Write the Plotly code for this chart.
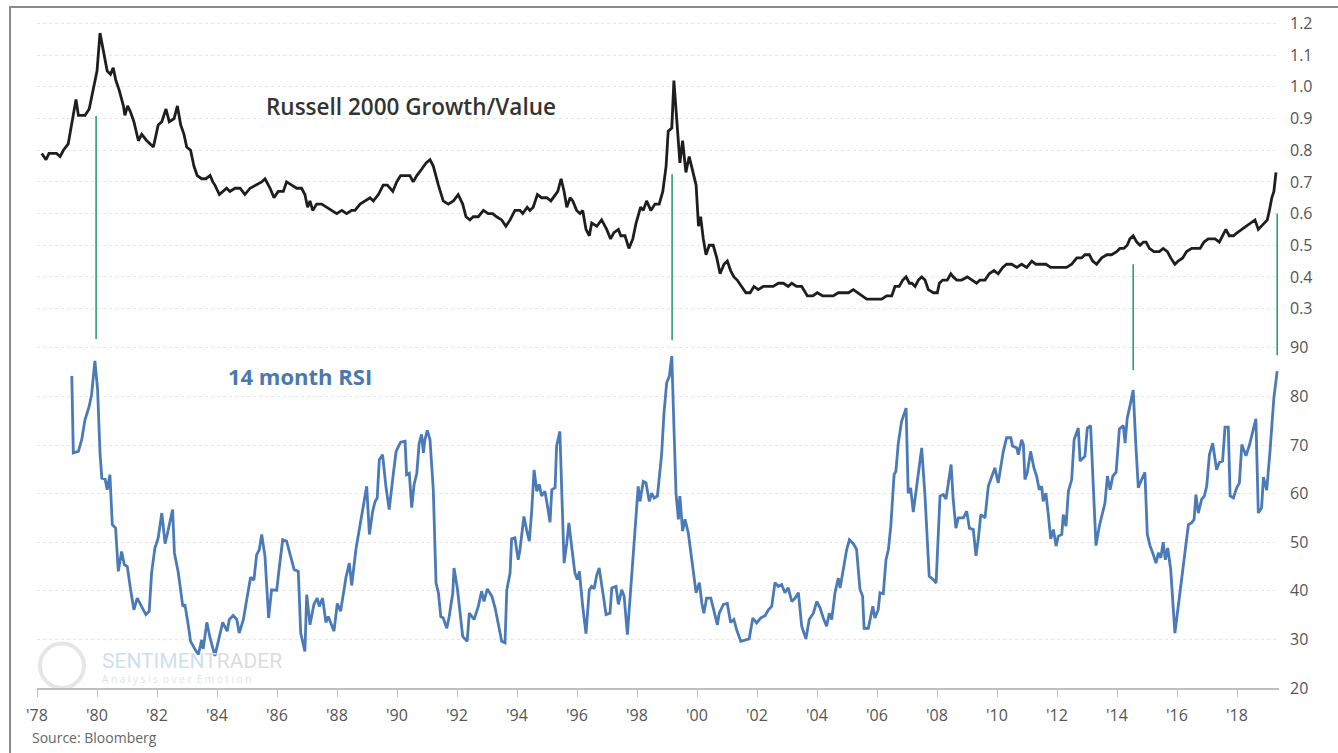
import plotly.graph_objects as go

# Russell 2000 Growth/Value ratio (decimal year, value)
ratio_year = [
    1978.16, 1978.3, 1978.4, 1978.65, 1978.77, 1978.88, 1979.04, 1979.2, 1979.3, 1979.38,
    1979.6, 1979.74, 1979.88, 1980.0, 1980.1, 1980.23, 1980.34, 1980.45, 1980.54, 1980.63,
    1980.74, 1980.88, 1980.93, 1981.02, 1981.12, 1981.23, 1981.38, 1981.49, 1981.66, 1981.88,
    1982.04, 1982.16, 1982.3, 1982.41, 1982.57, 1982.68, 1982.79, 1982.9, 1982.99, 1983.12,
    1983.23, 1983.34, 1983.49, 1983.63, 1983.77, 1983.86, 1983.93, 1984.08, 1984.2, 1984.32,
    1984.43, 1984.6, 1984.77, 1984.93, 1985.1, 1985.32, 1985.49, 1985.6, 1985.77, 1985.9,
    1986.04, 1986.21, 1986.32, 1986.49, 1986.66, 1986.82, 1986.93, 1987.02, 1987.1, 1987.19,
    1987.32, 1987.49, 1987.66, 1987.82, 1987.99, 1988.16, 1988.32, 1988.49, 1988.6, 1988.77,
    1988.93, 1989.1, 1989.21, 1989.38, 1989.54, 1989.68, 1989.86, 1989.99, 1990.12, 1990.3,
    1990.43, 1990.54, 1990.66, 1990.82, 1990.97, 1991.1, 1991.21, 1991.38, 1991.54, 1991.71,
    1991.88, 1992.04, 1992.19, 1992.3, 1992.43, 1992.54, 1992.71, 1992.88, 1993.04, 1993.19,
    1993.32, 1993.49, 1993.63, 1993.77, 1993.93, 1994.1, 1994.19, 1994.34, 1994.43, 1994.54,
    1994.68, 1994.82, 1994.99, 1995.13, 1995.27, 1995.36, 1995.47, 1995.57, 1995.66, 1995.77,
    1995.86, 1995.99, 1996.1, 1996.19, 1996.3, 1996.41, 1996.49, 1996.66, 1996.82, 1996.99,
    1997.12, 1997.23, 1997.38, 1997.46, 1997.6, 1997.73, 1997.86, 1997.97, 1998.12, 1998.21,
    1998.32, 1998.46, 1998.6, 1998.74, 1998.86, 1998.97, 1999.04, 1999.16, 1999.23, 1999.32,
    1999.43, 1999.52, 1999.63, 1999.74, 1999.86, 1999.97, 2000.05, 2000.12, 2000.21, 2000.3,
    2000.41, 2000.54, 2000.66, 2000.77, 2000.9, 2001.01, 2001.12, 2001.23, 2001.34, 2001.49,
    2001.63, 2001.77, 2001.9, 2002.04, 2002.21, 2002.38, 2002.54, 2002.71, 2002.88, 2003.04,
    2003.16, 2003.32, 2003.49, 2003.68, 2003.86, 2004.01, 2004.19, 2004.38, 2004.54, 2004.71,
    2004.88, 2005.05, 2005.21, 2005.35, 2005.49, 2005.66, 2005.82, 2005.99, 2006.16, 2006.32,
    2006.49, 2006.6, 2006.74, 2006.86, 2006.97, 2007.08, 2007.16, 2007.27, 2007.38, 2007.49,
    2007.6, 2007.71, 2007.88, 2008.01, 2008.08, 2008.19, 2008.34, 2008.46, 2008.54, 2008.66,
    2008.82, 2009.01, 2009.16, 2009.32, 2009.43, 2009.6, 2009.74, 2009.9, 2010.04, 2010.19,
    2010.32, 2010.49, 2010.66, 2010.82, 2010.99, 2011.16, 2011.3, 2011.46, 2011.63, 2011.79,
    2011.97, 2012.16, 2012.32, 2012.49, 2012.66, 2012.82, 2012.93, 2013.08, 2013.19, 2013.32,
    2013.49, 2013.66, 2013.82, 2013.99, 2014.1, 2014.23, 2014.34, 2014.43, 2014.54, 2014.66,
    2014.77, 2014.88, 2014.97, 2015.08, 2015.23, 2015.41, 2015.54, 2015.68, 2015.79, 2015.93,
    2016.04, 2016.19, 2016.32, 2016.49, 2016.63, 2016.77, 2016.9, 2017.04, 2017.12, 2017.27,
    2017.41, 2017.52, 2017.63, 2017.74, 2017.88, 2018.01, 2018.16, 2018.32, 2018.46, 2018.6,
    2018.71, 2018.82, 2018.93, 2019.01, 2019.08, 2019.16, 2019.23, 2019.3,
]
ratio_value = [
    0.79, 0.77, 0.79, 0.79, 0.78, 0.80, 0.82, 0.91, 0.96, 0.91,
    0.91, 0.93, 0.99, 1.05, 1.17, 1.10, 1.05, 1.04, 1.06, 1.02,
    0.99, 0.94, 0.91, 0.94, 0.92, 0.89, 0.83, 0.85, 0.83, 0.81,
    0.88, 0.89, 0.93, 0.89, 0.90, 0.94, 0.88, 0.85, 0.81, 0.80,
    0.75, 0.72, 0.71, 0.71, 0.72, 0.70, 0.69, 0.66, 0.67, 0.68,
    0.67, 0.68, 0.68, 0.66, 0.68, 0.69, 0.70, 0.71, 0.68, 0.65,
    0.67, 0.67, 0.70, 0.69, 0.68, 0.68, 0.66, 0.62, 0.64, 0.61,
    0.63, 0.63, 0.62, 0.61, 0.60, 0.61, 0.60, 0.61, 0.61, 0.63,
    0.64, 0.65, 0.64, 0.66, 0.69, 0.69, 0.67, 0.70, 0.72, 0.72,
    0.72, 0.70, 0.72, 0.74, 0.76, 0.77, 0.75, 0.69, 0.64, 0.63,
    0.64, 0.66, 0.63, 0.59, 0.58, 0.59, 0.59, 0.61, 0.60, 0.60,
    0.59, 0.58, 0.56, 0.58, 0.61, 0.61, 0.60, 0.62, 0.61, 0.62,
    0.66, 0.65, 0.65, 0.64, 0.66, 0.67, 0.71, 0.67, 0.62, 0.65,
    0.64, 0.61, 0.60, 0.61, 0.55, 0.53, 0.57, 0.56, 0.58, 0.55,
    0.52, 0.54, 0.55, 0.53, 0.53, 0.49, 0.52, 0.57, 0.62, 0.61,
    0.64, 0.61, 0.63, 0.63, 0.67, 0.75, 0.86, 0.87, 1.02, 0.90,
    0.76, 0.83, 0.73, 0.78, 0.73, 0.69, 0.56, 0.59, 0.52, 0.47,
    0.50, 0.50, 0.46, 0.41, 0.44, 0.45, 0.42, 0.40, 0.39, 0.37,
    0.35, 0.35, 0.37, 0.36, 0.37, 0.37, 0.37, 0.38, 0.38, 0.37,
    0.38, 0.37, 0.37, 0.34, 0.34, 0.35, 0.34, 0.34, 0.34, 0.35,
    0.35, 0.35, 0.36, 0.35, 0.34, 0.33, 0.33, 0.33, 0.33, 0.34,
    0.34, 0.37, 0.37, 0.39, 0.40, 0.38, 0.38, 0.37, 0.39, 0.40,
    0.39, 0.36, 0.35, 0.35, 0.38, 0.39, 0.39, 0.41, 0.40, 0.39,
    0.39, 0.40, 0.39, 0.38, 0.39, 0.39, 0.41, 0.42, 0.41, 0.43,
    0.44, 0.44, 0.43, 0.44, 0.43, 0.45, 0.44, 0.44, 0.44, 0.43,
    0.43, 0.43, 0.43, 0.44, 0.46, 0.46, 0.47, 0.47, 0.45, 0.44,
    0.46, 0.47, 0.47, 0.48, 0.49, 0.49, 0.50, 0.52, 0.53, 0.51,
    0.50, 0.51, 0.51, 0.49, 0.48, 0.48, 0.49, 0.48, 0.46, 0.44,
    0.45, 0.46, 0.48, 0.49, 0.49, 0.49, 0.51, 0.52, 0.52, 0.52,
    0.51, 0.53, 0.55, 0.53, 0.53, 0.54, 0.55, 0.56, 0.57, 0.58,
    0.55, 0.56, 0.57, 0.58, 0.61, 0.65, 0.67, 0.73,
]

# 14 month RSI of the ratio (decimal year, value)
rsi_year = [
    1979.16, 1979.21, 1979.38, 1979.49, 1979.6, 1979.74, 1979.82, 1979.93, 1980.02, 1980.1,
    1980.16, 1980.27, 1980.34, 1980.43, 1980.51, 1980.62, 1980.71, 1980.82, 1980.91, 1981.01,
    1981.12, 1981.23, 1981.34, 1981.49, 1981.63, 1981.74, 1981.82, 1981.93, 1982.04, 1982.16,
    1982.27, 1982.34, 1982.52, 1982.58, 1982.71, 1982.86, 1982.93, 1983.04, 1983.12, 1983.27,
    1983.38, 1983.49, 1983.54, 1983.66, 1983.77, 1983.93, 1984.08, 1984.19, 1984.34, 1984.41,
    1984.54, 1984.66, 1984.74, 1984.88, 1985.01, 1985.12, 1985.23, 1985.32, 1985.41, 1985.49,
    1985.6, 1985.72, 1985.82, 1985.99, 1986.08, 1986.19, 1986.32, 1986.43, 1986.57, 1986.71,
    1986.79, 1986.93, 1986.99, 1987.1, 1987.23, 1987.34, 1987.41, 1987.52, 1987.63, 1987.71,
    1987.8, 1987.9, 1988.01, 1988.12, 1988.3, 1988.41, 1988.49, 1988.63, 1988.79, 1988.93,
    1988.99, 1989.08, 1989.19, 1989.27, 1989.34, 1989.41, 1989.52, 1989.63, 1989.74, 1989.86,
    1989.97, 1990.12, 1990.27, 1990.32, 1990.41, 1990.49, 1990.57, 1990.66, 1990.74, 1990.82,
    1990.88, 1990.93, 1991.01, 1991.1, 1991.21, 1991.3, 1991.38, 1991.46, 1991.54, 1991.66,
    1991.74, 1991.86, 1991.9, 1992.01, 1992.1, 1992.19, 1992.34, 1992.41, 1992.57, 1992.71,
    1992.82, 1992.9, 1993.01, 1993.16, 1993.27, 1993.38, 1993.49, 1993.6, 1993.66, 1993.77,
    1993.82, 1993.93, 1994.04, 1994.1, 1994.23, 1994.32, 1994.41, 1994.49, 1994.57, 1994.66,
    1994.74, 1994.82, 1994.93, 1995.01, 1995.1, 1995.16, 1995.27, 1995.32, 1995.43, 1995.49,
    1995.57, 1995.66, 1995.73, 1995.82, 1995.93, 1996.01, 1996.08, 1996.19, 1996.3, 1996.41,
    1996.49, 1996.57, 1996.66, 1996.74, 1996.86, 1996.97, 1997.1, 1997.16, 1997.3, 1997.38,
    1997.49, 1997.57, 1997.68, 1997.77, 1997.88, 1997.97, 1998.04, 1998.1, 1998.21, 1998.3,
    1998.41, 1998.49, 1998.57, 1998.68, 1998.77, 1998.82, 1998.9, 1998.99, 1999.08, 1999.16,
    1999.21, 1999.3, 1999.38, 1999.43, 1999.52, 1999.6, 1999.71, 1999.86, 1999.97, 2000.08,
    2000.16, 2000.23, 2000.32, 2000.46, 2000.57, 2000.68, 2000.74, 2000.88, 2001.01, 2001.12,
    2001.23, 2001.32, 2001.46, 2001.6, 2001.74, 2001.86, 2001.99, 2002.12, 2002.27, 2002.38,
    2002.49, 2002.6, 2002.71, 2002.82, 2002.93, 2003.04, 2003.16, 2003.27, 2003.38, 2003.49,
    2003.63, 2003.74, 2003.88, 2003.99, 2004.1, 2004.21, 2004.32, 2004.41, 2004.49, 2004.6,
    2004.71, 2004.77, 2004.88, 2004.99, 2005.08, 2005.21, 2005.32, 2005.43, 2005.52, 2005.57,
    2005.71, 2005.86, 2005.93, 2006.04, 2006.1, 2006.21, 2006.3, 2006.38, 2006.46, 2006.57,
    2006.63, 2006.71, 2006.82, 2006.97, 2007.04, 2007.12, 2007.21, 2007.32, 2007.49, 2007.6,
    2007.74, 2007.88, 2007.97, 2008.1, 2008.21, 2008.3, 2008.47, 2008.54, 2008.63, 2008.71,
    2008.88, 2008.99, 2009.08, 2009.21, 2009.3, 2009.38, 2009.46, 2009.6, 2009.71, 2009.79,
    2009.93, 2010.04, 2010.12, 2010.21, 2010.32, 2010.46, 2010.52, 2010.66, 2010.71, 2010.82,
    2010.88, 2010.93, 2011.01, 2011.12, 2011.23, 2011.32, 2011.41, 2011.49, 2011.54, 2011.63,
    2011.71, 2011.79, 2011.88, 2011.97, 2012.04, 2012.16, 2012.21, 2012.3, 2012.38, 2012.49,
    2012.57, 2012.71, 2012.77, 2012.93, 2013.01, 2013.12, 2013.21, 2013.3, 2013.41, 2013.52,
    2013.6, 2013.68, 2013.77, 2013.86, 2013.97, 2014.08, 2014.21, 2014.27, 2014.34, 2014.43,
    2014.54, 2014.63, 2014.71, 2014.82, 2014.93, 2015.01, 2015.1, 2015.19, 2015.3, 2015.38,
    2015.46, 2015.54, 2015.61, 2015.69, 2015.79, 2015.93, 2016.04, 2016.21, 2016.38, 2016.49,
    2016.57, 2016.63, 2016.71, 2016.82, 2016.91, 2016.99, 2017.08, 2017.19, 2017.32, 2017.41,
    2017.52, 2017.6, 2017.71, 2017.77, 2017.88, 2017.99, 2018.08, 2018.16, 2018.3, 2018.41,
    2018.49, 2018.63, 2018.71, 2018.82, 2018.88, 2018.99, 2019.1, 2019.23, 2019.34,
]
rsi_value = [
    84.2, 68.4, 68.7, 71.1, 75.2, 78.0, 80.4, 87.3, 81.4, 68.4,
    63.2, 63.0, 60.8, 63.9, 53.6, 52.9, 44.0, 48.1, 45.4, 45.0,
    40.2, 36.1, 38.5, 36.8, 35.1, 35.8, 43.7, 48.8, 50.9, 56.0,
    49.7, 51.6, 56.7, 47.8, 43.7, 36.8, 37.2, 33.0, 29.6, 27.9,
    26.9, 29.9, 28.0, 33.5, 30.3, 26.6, 30.6, 33.5, 31.7, 34.1,
    34.9, 34.1, 31.3, 34.1, 38.9, 42.8, 42.2, 47.4, 48.5, 51.6,
    47.1, 34.4, 40.2, 40.1, 45.0, 50.5, 50.2, 47.8, 44.4, 44.0,
    31.3, 27.5, 39.2, 33.0, 37.2, 38.5, 36.8, 38.5, 33.5, 34.7,
    33.4, 31.7, 37.4, 35.8, 42.8, 45.7, 41.1, 48.5, 54.3, 59.1,
    61.5, 51.6, 56.4, 58.4, 59.1, 67.0, 68.0, 61.5, 56.7, 63.2,
    68.7, 70.6, 70.8, 63.9, 64.2, 57.1, 61.9, 64.2, 70.4, 72.2,
    68.4, 71.1, 73.0, 71.1, 60.8, 41.6, 39.6, 34.7, 34.4, 32.3,
    34.7, 39.6, 44.7, 40.6, 35.4, 30.6, 29.6, 35.4, 34.1, 36.8,
    39.9, 37.8, 40.4, 38.9, 36.5, 33.4, 29.6, 29.3, 40.2, 43.7,
    50.7, 50.9, 46.4, 48.5, 55.3, 52.6, 50.2, 56.4, 64.9, 60.5,
    61.9, 59.5, 60.5, 57.7, 54.1, 60.8, 61.2, 69.8, 72.8, 60.8,
    45.7, 49.8, 54.0, 49.2, 43.7, 42.3, 44.0, 36.8, 31.2, 40.2,
    40.9, 40.4, 43.3, 44.7, 39.6, 35.1, 35.4, 40.6, 40.9, 37.2,
    40.2, 38.9, 31.0, 38.2, 47.8, 55.3, 61.5, 58.4, 62.5, 62.2,
    58.4, 60.1, 59.1, 59.5, 64.9, 68.0, 76.6, 82.8, 84.2, 88.3,
    78.0, 60.1, 54.7, 59.5, 52.3, 54.7, 51.9, 45.0, 39.6, 41.7,
    37.5, 35.4, 38.5, 38.5, 35.8, 33.0, 35.4, 37.2, 37.4, 33.5,
    34.1, 32.0, 29.6, 29.9, 30.1, 34.4, 33.4, 34.4, 34.9, 36.1,
    36.8, 41.7, 40.9, 41.3, 39.6, 40.6, 37.8, 38.5, 39.6, 32.7,
    30.1, 34.1, 35.4, 37.8, 36.5, 34.4, 32.7, 35.4, 34.1, 39.6,
    42.6, 40.6, 45.0, 48.5, 50.5, 49.7, 48.5, 40.4, 38.9, 32.3,
    32.3, 36.8, 34.4, 36.1, 39.6, 39.4, 46.4, 48.5, 53.3, 63.9,
    64.6, 70.4, 74.9, 77.6, 60.1, 61.2, 56.2, 61.5, 69.4, 59.5,
    43.0, 42.3, 41.6, 59.5, 59.8, 58.9, 66.0, 58.8, 52.9, 55.0,
    55.0, 56.4, 52.9, 52.6, 47.2, 50.9, 55.7, 55.0, 61.5, 62.9,
    65.3, 62.2, 64.9, 68.7, 71.5, 71.5, 69.8, 69.4, 68.0, 71.1,
    70.1, 62.9, 64.3, 68.7, 65.3, 63.6, 60.8, 61.5, 58.4, 60.1,
    55.7, 50.7, 52.6, 49.2, 51.2, 51.6, 55.7, 53.3, 60.5, 62.9,
    71.1, 73.5, 66.7, 67.7, 73.5, 74.0, 61.5, 49.3, 53.3, 56.4,
    58.1, 63.6, 60.8, 63.6, 64.4, 73.3, 74.0, 70.4, 75.5, 78.0,
    81.3, 69.8, 61.2, 62.9, 64.4, 51.6, 49.3, 47.8, 45.7, 47.8,
    46.8, 50.0, 46.4, 48.8, 44.4, 31.3, 36.8, 45.0, 53.6, 54.0,
    54.7, 59.8, 56.0, 58.8, 59.5, 61.5, 68.0, 70.4, 64.9, 66.4,
    66.7, 73.7, 73.7, 59.5, 59.1, 61.2, 62.2, 70.1, 67.8, 69.9,
    71.8, 75.4, 56.0, 57.1, 63.4, 60.7, 68.7, 79.8, 85.2,
]

# green connectors between ratio peaks and RSI peaks (on the ratio scale)
signal_year = [1979.97, 1999.17, 2014.54, 2019.34]
signal_top = [0.908, 0.724, 0.44, 0.60]
signal_bottom = [0.204, 0.20, 0.106, 0.153]

x_ticks = list(range(1978, 2019, 2))
x_labels = ["'" + str(y)[2:] for y in x_ticks]
ratio_ticks = [0.3, 0.4, 0.5, 0.6, 0.7, 0.8, 0.9, 1.0, 1.1, 1.2]
rsi_ticks = [20, 30, 40, 50, 60, 70, 80, 90]

FONT = "Open Sans, Lato, sans-serif"

sig_x, sig_y = [], []
for yr, t, b in zip(signal_year, signal_top, signal_bottom):
    sig_x += [yr, yr, None]
    sig_y += [t, b, None]

fig = go.Figure()
fig.add_trace(go.Scatter(x=sig_x, y=sig_y, mode="lines",
                         line=dict(color="#2f9c73", width=1.6),
                         yaxis="y", hoverinfo="skip"))
fig.add_trace(go.Scatter(x=ratio_year, y=ratio_value, mode="lines",
                         line=dict(color="#1e1e1e", width=2.8),
                         yaxis="y", name="Russell 2000 Growth/Value"))
fig.add_trace(go.Scatter(x=rsi_year, y=rsi_value, mode="lines",
                         line=dict(color="#4a7ab8", width=2.8),
                         yaxis="y2", name="14 month RSI"))

fig.update_layout(
    width=1338, height=753,
    paper_bgcolor="white", plot_bgcolor="white",
    margin=dict(l=37, r=59, t=15, b=65, autoexpand=False),
    showlegend=False,
    font=dict(family=FONT, color="#555555"),
    xaxis=dict(
        range=[1978.0, 2019.4], tickvals=x_ticks, ticktext=x_labels,
        showgrid=False, zeroline=False,
        showline=True, linecolor="#bfbfbf", linewidth=1.5,
        ticks="outside", ticklen=7, tickcolor="#bfbfbf",
        ticklabelstandoff=5,
        tickfont=dict(size=16, color="#555555"),
    ),
    yaxis=dict(
        side="right", range=[-0.898, 1.227],
        tickvals=ratio_ticks, tickformat=".1f",
        showgrid=True, gridcolor="#e6e6e6", griddash="dot",
        zeroline=False, showline=False, ticklabelstandoff=10,
        tickfont=dict(size=16, color="#555555"),
    ),
    yaxis2=dict(
        side="right", overlaying="y", range=[20, 158.5],
        tickvals=rsi_ticks,
        showgrid=True, gridcolor="#e6e6e6", griddash="dot",
        zeroline=False, showline=False, ticklabelstandoff=10,
        tickfont=dict(size=16, color="#555555"),
    ),
    annotations=[
        dict(x=1990.47, y=0.939, xref="x", yref="y", text="Russell 2000 Growth/Value",
             showarrow=False, font=dict(size=22.5, color="#333333", family=FONT, weight=600)),
        dict(x=1986.77, y=84.2, xref="x", yref="y2", text="14 month RSI",
             showarrow=False, font=dict(size=22, color="#4a78b0", family=FONT, weight=700)),
        dict(x=0.0507, y=0.040, xref="paper", yref="paper", xanchor="left", yanchor="middle",
             text="<span style='color:#cddff0'>SENTIMEN</span><span style='color:#dcdcdc'>TRADER</span>",
             showarrow=False, font=dict(size=21, family="Liberation Sans Narrow, Roboto, sans-serif")),
        dict(x=0.0507, y=0.0134, xref="paper", yref="paper", xanchor="left", yanchor="middle",
             text="A n a l y s i s  o v e r  E m o t i o n",
             showarrow=False, font=dict(size=10, color="#dde3ea", family=FONT)),
        dict(x=-0.0057, y=-0.073, xref="paper", yref="paper", xanchor="left", yanchor="middle",
             text="Source: Bloomberg", showarrow=False,
             font=dict(size=14, color="#666666", family=FONT)),
    ],
    shapes=[
        dict(type="rect", xref="paper", yref="paper", x0=-0.0217, x1=1.2, y0=-0.3, y1=1.0119,
             line=dict(color="#8a8a8a", width=2), layer="below"),
        dict(type="circle", xref="paper", yref="paper", x0=0.0024, x1=0.0378, y0=0.0, y1=0.066,
             line=dict(color="#e6e6e6", width=4), layer="below"),
    ],
)

# the page body has a default 8px margin; drop it so the figure fills the window
fig.write_html("out.html", config={"displayModeBar": False},
               post_script="document.body.style.margin='0';")
